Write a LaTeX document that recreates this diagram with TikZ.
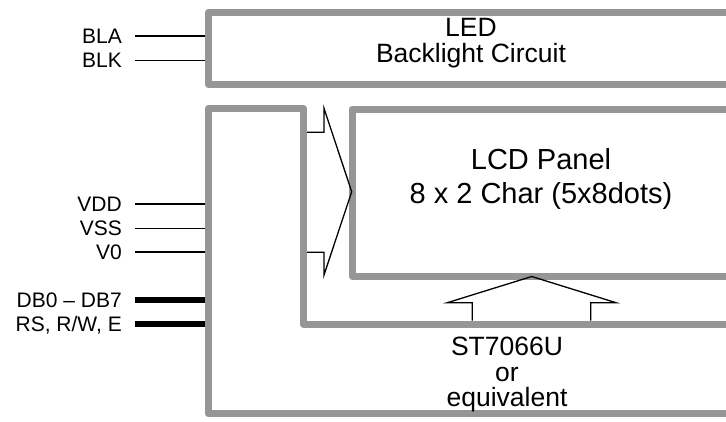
\documentclass[tikz,border=0pt]{standalone}
\usepackage{fontspec}
\setmainfont{Liberation Sans}
\usetikzlibrary{positioning,calc}
\definecolor{framegray}{RGB}{150,150,150}

\begin{document}
\begin{tikzpicture}[x=1pt,y=-1pt,
  frame/.style={draw=framegray,line width=7pt,line join=round},
  pinlbl/.style={anchor=east,inner sep=0pt,text height=14pt,text depth=0pt,font=\fontsize{21}{24}\selectfont},
  pin/.style={line width=1.3pt},
  buspin/.style={line width=6pt},
  fatarrow/.style={line width=1.3pt,line join=miter}]
\useasboundingbox (0,0) rectangle (726,421);
% blocks
\draw[frame] (726,12.5) -- (208,12.5) -- (208,84.5) -- (726,84.5);
\draw[frame] (726,413.5) -- (208,413.5) -- (208,108.5) -- (303.5,108.5) -- (303.5,324) -- (726,324);
\draw[frame] (726,109) -- (352,109) -- (352,276.5) -- (726,276.5);
\coordinate (lftedge) at (204.5,0);
% block texts
\node[align=center,inner sep=0pt,font=\fontsize{26.5}{26.6}\selectfont] (led) at (471,43.3) {LED\\Backlight Circuit};
\node[align=center,inner sep=0pt,font=\fontsize{29}{34}\selectfont] (lcd) at (541,179) {LCD Panel\\8 x 2 Char (5x8dots)};
\node[align=center,inner sep=0pt,font=\fontsize{26.5}{25.4}\selectfont] (ctrl) at (507,374.5) {ST7066U\\or\\equivalent};
% pins
\node[pinlbl] (bla) at (122,36) {BLA};
\node[pinlbl] (blk) at (122,60.3) {BLK};
\node[pinlbl] (vdd) at (122,204) {VDD};
\node[pinlbl] (vss) at (122,228.3) {VSS};
\node[pinlbl] (vo) at (122,252) {V0};
\node[pinlbl] (db) at (122,300) {DB0 -- DB7};
\node[pinlbl] (rs) at (122,324.3) {RS, R/W, E};
\foreach \p in {bla,blk,vdd,vss,vo}
  \draw[pin] ([xshift=13pt]\p.east) -- (\p.east -| lftedge);
\foreach \p in {db,rs}
  \draw[buspin] ([xshift=13pt]\p.east) -- (\p.east -| lftedge);
% data paths
\draw[fatarrow] (307,132.3) -- (324,132.3) -- (324,108.3) -- (351.7,191.7) -- (324,275) -- (324,252.3) -- (307,252.3);
\draw[fatarrow] (472.3,320.5) -- (472.3,302.7) -- (447.3,302.7) -- (531.7,276.5) -- (616,302.7) -- (590.7,302.7) -- (590.7,320.5);
\end{tikzpicture}
\end{document}
